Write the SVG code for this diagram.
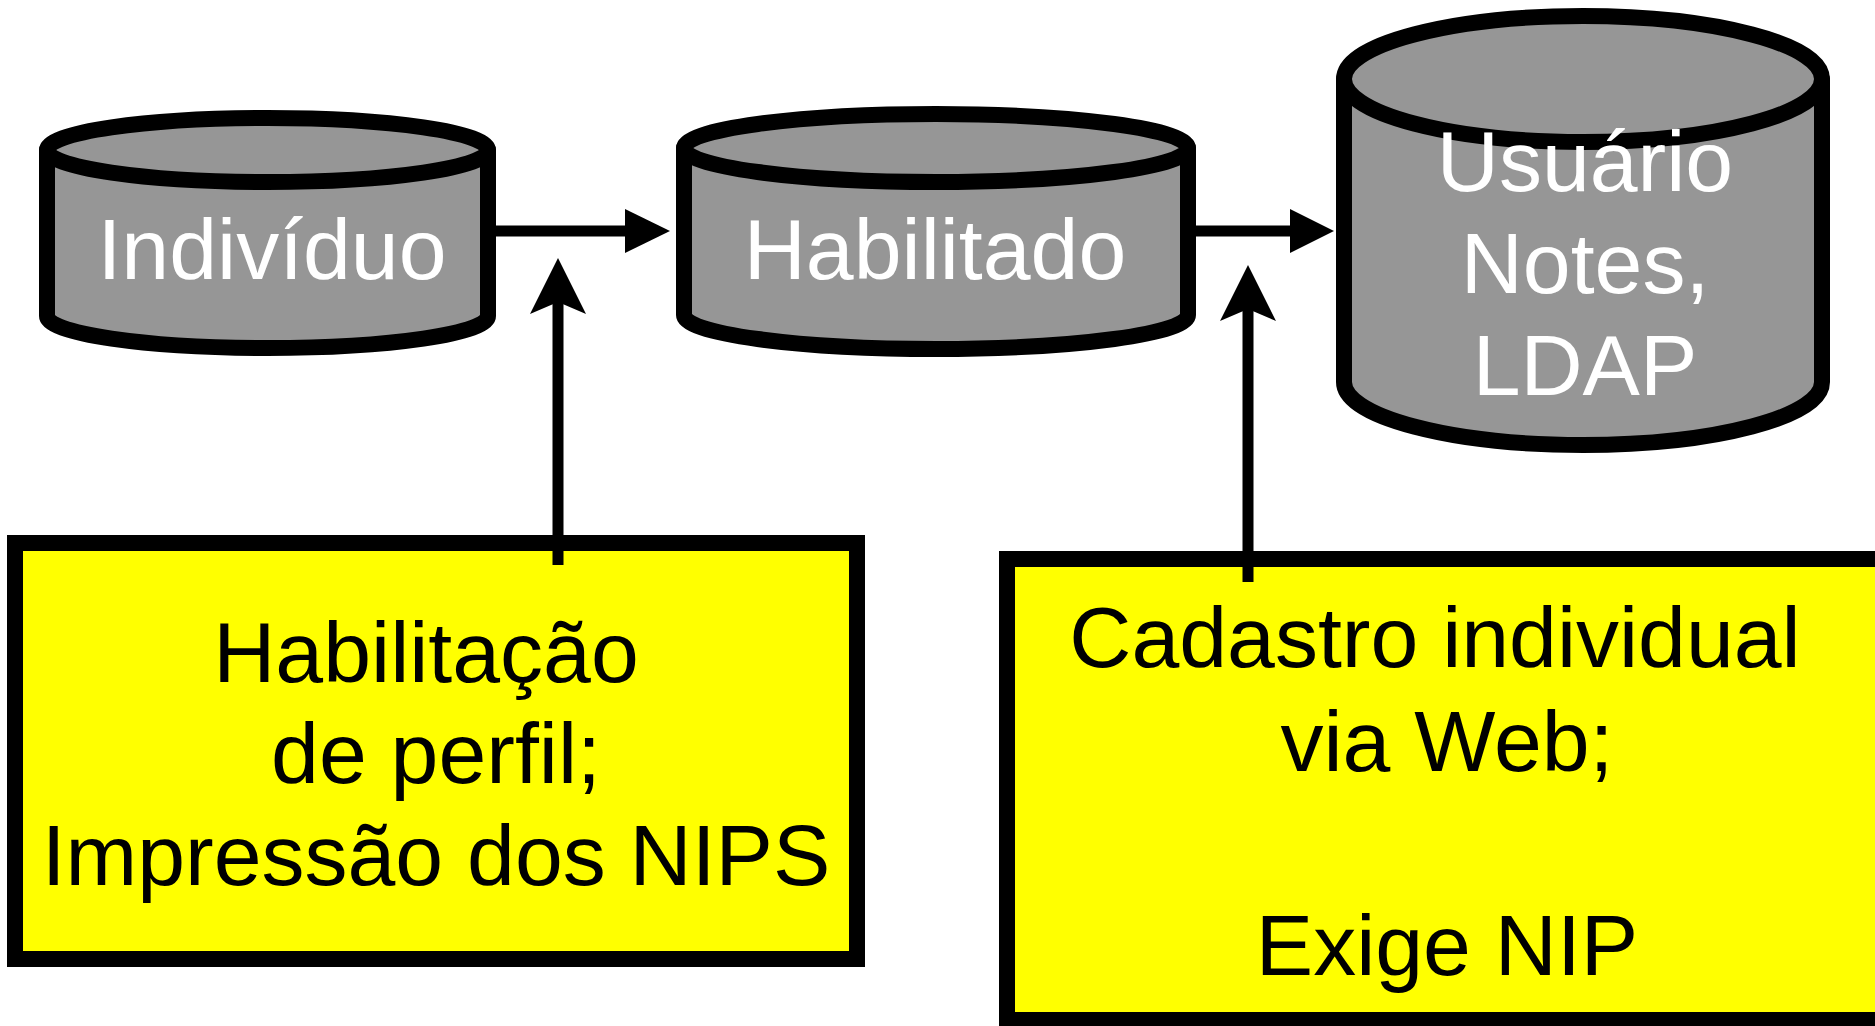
<svg xmlns="http://www.w3.org/2000/svg" width="1875" height="1026" viewBox="0 0 1875 1026">
<style>
.cyl{fill:#969696;stroke:#000;stroke-width:16;stroke-linejoin:round}
.box{fill:#FFFF00;stroke:#000;stroke-width:16}
.wt{font-family:"Liberation Sans",Arial,sans-serif;font-size:86px;fill:#fff;text-anchor:middle}
.bt{font-family:"Liberation Sans",Arial,sans-serif;font-size:86px;fill:#000;text-anchor:middle}
.ln{stroke:#000;stroke-width:11;fill:none}
.hd{fill:#000}
</style>
<rect width="1875" height="1026" fill="#fff"/>
<g id="individuo">
<path class="cyl" d="M47,150 L47,316 A220.5,32 0 0 0 488,316 L488,150 Z"/>
<ellipse class="cyl" cx="267.5" cy="150" rx="220.5" ry="32"/>
<text class="wt" x="272" y="279">Indivíduo</text>
</g>
<g id="habilitado">
<path class="cyl" d="M684,148 L684,315 A252,34 0 0 0 1188,315 L1188,148 Z"/>
<ellipse class="cyl" cx="936" cy="148" rx="252" ry="34"/>
<text class="wt" x="935" y="279">Habilitado</text>
</g>
<g id="usuario">
<path class="cyl" d="M1344,79 L1344,382 A239,63 0 0 0 1822,382 L1822,79 Z"/>
<ellipse class="cyl" cx="1583" cy="79" rx="239" ry="63"/>
<text class="wt" x="1585" y="191">Usuário</text>
<text class="wt" x="1585" y="293">Notes,</text>
<text class="wt" x="1585" y="395">LDAP</text>
</g>
<g id="habilitacao">
<rect class="box" x="15" y="543" width="842" height="416"/>
<text class="bt" x="426" y="682">Habilitação</text>
<text class="bt" x="436" y="783">de perfil;</text>
<text class="bt" x="436" y="885">Impressão dos NIPS</text>
</g>
<g id="cadastro">
<rect class="box" x="1007" y="559" width="900" height="461"/>
<text class="bt" x="1435" y="667">Cadastro individual</text>
<text class="bt" x="1447" y="771">via Web;</text>
<text class="bt" x="1447" y="975">Exige NIP</text>
</g>
<g id="connectors">
<line class="ln" x1="496" y1="231" x2="630" y2="231"/>
<polygon class="hd" points="625,209 670,231 625,253"/>
<line class="ln" x1="1196" y1="231" x2="1295" y2="231"/>
<polygon class="hd" points="1290,209 1334,231 1290,253"/>
<line class="ln" x1="558" y1="565" x2="558" y2="300"/>
<polygon class="hd" points="558,258 586,314 558,302 530,314"/>
<line class="ln" x1="1248" y1="582" x2="1248" y2="307"/>
<polygon class="hd" points="1248,265 1276,321 1248,309 1220,321"/>
</g>
</svg>
